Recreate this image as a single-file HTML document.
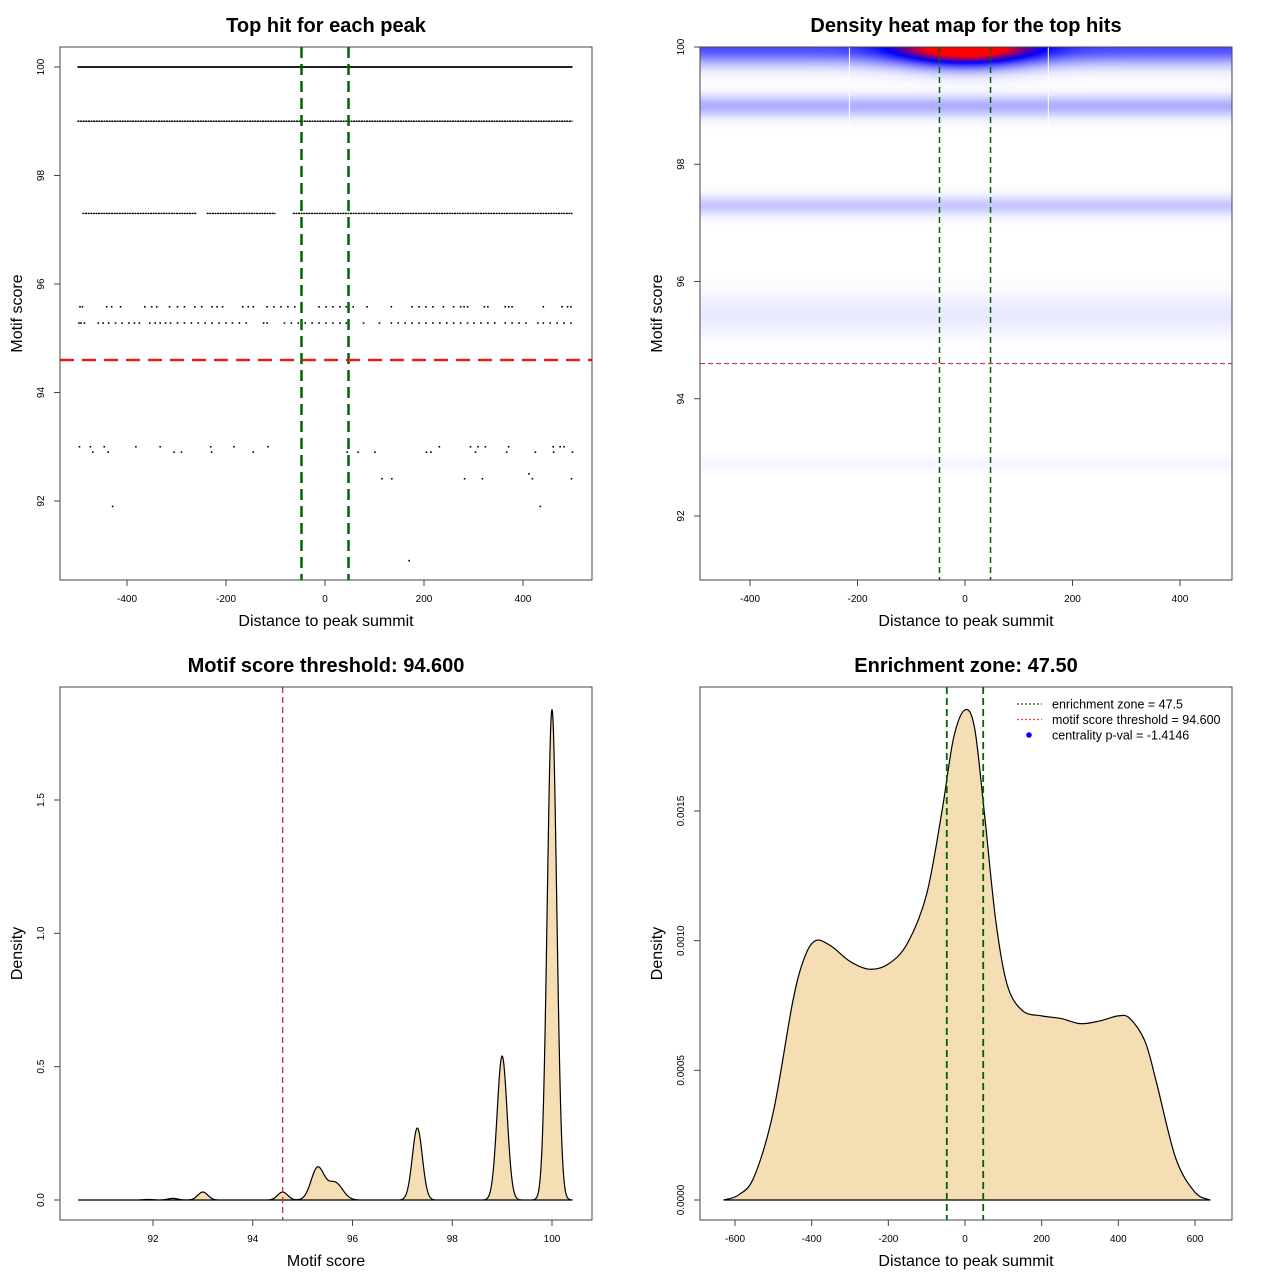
<!DOCTYPE html>
<html><head><meta charset="utf-8">
<style>
html,body{margin:0;padding:0;background:#fff;}
#wrap{position:relative;width:1280px;height:1280px;}
svg{position:absolute;left:0;top:0;}
canvas{position:absolute;}
text{font-family:"Liberation Sans",sans-serif;fill:#000;}
</style></head>
<body>
<div id="wrap">
<canvas id="heat" width="532" height="533" style="left:700px;top:47px"></canvas>
<svg id="svg" width="1280" height="1280" xmlns="http://www.w3.org/2000/svg"></svg>
</div>
<script>
// ---------- data ----------
const threshold = 94.6;
const zone = 47.5;
const denseRowScores = [100, 99, 97.3, 97.3, 97.3];
const denseRowStarts = [-500, -500, -490, -239, -65];
const denseRowEnds = [500, 500, -260, -100, 500];
const row956X = [-495,-490,-441,-431,-413,-364,-350,-340,-314,-298,-284,-263,-249,-228,-218,-207,-166,-155,-145,-117,-103,-89,-75,-61,-47,-12,2,16,30,43,57,85,134,176,190,204,218,239,260,274,281,288,322,329,364,371,378,441,479,490,497];
const row953X = [-497,-493,-486,-458,-448,-437,-423,-410,-396,-385,-375,-354,-343,-333,-322,-312,-298,-284,-270,-256,-242,-228,-214,-200,-187,-173,-159,-124,-117,-82,-68,-54,-40,-26,-12,2,16,30,43,78,110,134,148,162,176,190,204,218,232,246,260,274,288,301,315,329,343,364,378,392,406,430,441,455,469,483,497];
const row930X = [-496,-474,-446,-382,-333,-231,-184,-115,231,294,309,324,371,461,475,483];
const row929X = [-469,-438,-305,-290,-229,-145,45,67,101,205,214,304,367,425,462,500];
const row924X = [115,135,282,318,419,498];
const lowX = [412,-429,435,170];
const lowScore = [92.5,91.9,91.9,90.9];
// heatmap bands
const bandScores = [100, 99.0, 97.3, 95.45, 92.9];
const bandStrength = [0.42, 0.19, 0.13, 0.05, 0.02];
const bandSd = [0.2, 0.13, 0.12, 0.25, 0.1];
const hotCenter = 0, hotStrength = 0.85;
// score density peaks
const peakCenters = [91.9, 92.4, 93.0, 94.6, 95.3, 95.65, 97.3, 99.0, 100.0];
const peakHeights = [0.002, 0.006, 0.03, 0.03, 0.12, 0.065, 0.27, 0.54, 1.84];
const peakSd = [0.1, 0.1, 0.1, 0.1, 0.13, 0.15, 0.1, 0.1, 0.095];
// distance density curve
const distX = [-630,-590,-550,-500,-450,-420,-390,-350,-300,-250,-200,-150,-100,-60,-30,0,25,50,80,110,150,200,250,300,350,400,430,470,500,550,600,640];
const distY = [0,0.00002,0.00009,0.00034,0.00076,0.00093,0.001,0.00098,0.00092,0.00089,0.00091,0.00099,0.00118,0.0015,0.00178,0.00189,0.00182,0.0015,0.00108,0.00083,0.00073,0.00071,0.0007,0.00068,0.00069,0.00071,0.0007,0.00061,0.00045,0.00016,0.00003,0];
// ticks
const tlXTicks = [-400,-200,0,200,400];
const tlYTicks = [92,94,96,98,100];
const blXTicks = [92,94,96,98,100];
const blYTicks = [0,0.5,1.0,1.5];
const blYLabels = ["0.0","0.5","1.0","1.5"];
const brXTicks = [-600,-400,-200,0,200,400,600];
const brYTicks = [0,0.0005,0.001,0.0015];
const brYLabels = ["0.0000","0.0005","0.0010","0.0015"];

// ---------- helpers ----------
const NS = "http://www.w3.org/2000/svg";
const svg = document.getElementById('svg');
function el(tag, attrs, parent){ const e=document.createElementNS(NS,tag); for(const k in attrs) e.setAttribute(k,attrs[k]); (parent||svg).appendChild(e); return e; }
function lin(d0,d1,p0,p1){ return v=>p0+(v-d0)*(p1-p0)/(d1-d0); }

function axes(box, sx, sy, xt, xl, yt, yl, title, xlab, ylab, prefix){
  const f=el('rect',{x:box.x,y:box.y,width:box.w,height:box.h,fill:'none',stroke:'#444','stroke-width':1});
  
  
  const by=box.y+box.h;
  el('line',{x1:sx(xt[0]),x2:sx(xt[xt.length-1]),y1:by,y2:by,stroke:'#444'});
  xt.forEach((t,i)=>{
    el('line',{x1:sx(t),x2:sx(t),y1:by,y2:by+6,stroke:'#444'});
    const tx=el('text',{x:sx(t),y:by+22,'font-size':10,'text-anchor':'middle'}); tx.textContent=xl[i];
    
    
  });
  const lx=box.x;
  el('line',{x1:lx,x2:lx,y1:sy(yt[0]),y2:sy(yt[yt.length-1]),stroke:'#444'});
  yt.forEach((t,i)=>{
    el('line',{x1:lx-6,x2:lx,y1:sy(t),y2:sy(t),stroke:'#444'});
    const tx=el('text',{x:lx-16,y:sy(t),'font-size':10,'text-anchor':'middle',transform:`rotate(-90 ${lx-16} ${sy(t)})`}); tx.textContent=yl[i];
    
    
  });
  const tt=el('text',{x:box.x+box.w/2,y:box.y-15,'font-size':20,'font-weight':'bold','text-anchor':'middle'}); tt.textContent=title;
  
  
  const xa=el('text',{x:box.x+box.w/2,y:by+46,'font-size':16,'text-anchor':'middle'}); xa.textContent=xlab;
  
  
  const cy=box.y+box.h/2, ax=box.x-38;
  const ya=el('text',{x:ax,y:cy,'font-size':16,'text-anchor':'middle',transform:`rotate(-90 ${ax} ${cy})`}); ya.textContent=ylab;
  
  
}

// ---------- top-left scatter ----------
(function(){
  const box={x:60,y:47,w:532,h:533};
  const sx=lin(0,400,325,523), sy=lin(100,92,67,501);
  const g=el('g',{});  
  denseRowScores.forEach((s,i)=>{
    const l=el('line',{x1:sx(denseRowStarts[i]),x2:sx(denseRowEnds[i]),y1:sy(s),y2:sy(s),stroke:'#000','stroke-width':s===100?1.8:1.4,'stroke-dasharray':s===100?'none':'2 0.6'},g);
    
    
  });
  function pts(xs,s){ xs.forEach(x=>{ const r=el('rect',{x:sx(x)-0.8,y:sy(s)-0.8,width:1.6,height:1.6,fill:'#000'},g);
      }); }
  pts(row956X,95.58); pts(row953X,95.28); pts(row930X,93.0); pts(row929X,92.9); pts(row924X,92.41);
  lowX.forEach((x,i)=>pts([x],lowScore[i]));
  const v1=el('line',{x1:sx(-zone),x2:sx(-zone),y1:47,y2:580,stroke:'#006400','stroke-width':2.5,'stroke-dasharray':'11 6'});
   
  const v2=el('line',{x1:sx(zone),x2:sx(zone),y1:47,y2:580,stroke:'#006400','stroke-width':2.5,'stroke-dasharray':'11 6'});
   
  const h=el('line',{x1:60,x2:592,y1:sy(threshold),y2:sy(threshold),stroke:'#e0201b','stroke-width':2.5,'stroke-dasharray':'14 8'});
   
  axes(box,sx,sy,tlXTicks,tlXTicks.map(String),tlYTicks,tlYTicks.map(String),'Top hit for each peak','Distance to peak summit','Motif score','scatter');
})();

// ---------- top-right heatmap ----------
(function(){
  const box={x:700,y:47,w:532,h:533};
  const sx=lin(0,400,965,1180), sy=lin(100,92,47,516);
  const c=document.getElementById('heat').getContext('2d');
  const img=c.createImageData(532,533);
  for(let py=0;py<533;py++){
    const s=100-(py)/58.625;
    for(let px=0;px<532;px++){
      const x=(px+700-965)/0.5375;
      let d=0;
      for(let i=0;i<bandScores.length;i++){ const z=(s-bandScores[i])/bandSd[i]; d+=bandStrength[i]*Math.exp(-z*z/2); }
      const hx=(x-hotCenter)/85, hs=(s-100)/0.22;
      d+=hotStrength*Math.exp(-(hx*hx+hs*hs)/2);
      let r,gg,b;
      if(d<0.6){ const t=d/0.6; r=255*(1-t); gg=255*(1-t); b=255; }
      else { const t=Math.min(1,(d-0.6)/0.4); r=255*t; gg=0; b=255*(1-t); }
      const k=(py*532+px)*4; img.data[k]=r; img.data[k+1]=gg; img.data[k+2]=b; img.data[k+3]=255;
    }
  }
  c.putImageData(img,0,0);
  [-215,155].forEach(x=>{ const l=el('line',{x1:sx(x),x2:sx(x),y1:47,y2:135,stroke:'#fff','stroke-width':1});   });
  const v1=el('line',{x1:sx(-zone),x2:sx(-zone),y1:47,y2:580,stroke:'#006400','stroke-width':1.5,'stroke-dasharray':'6 4'});
   
  const v2=el('line',{x1:sx(zone),x2:sx(zone),y1:47,y2:580,stroke:'#006400','stroke-width':1.5,'stroke-dasharray':'6 4'});
   
  const h=el('line',{x1:700,x2:1232,y1:sy(threshold),y2:sy(threshold),stroke:'#d03a3a','stroke-width':1.2,'stroke-dasharray':'5 3'});
   
  axes(box,sx,sy,tlXTicks,tlXTicks.map(String),tlYTicks,tlYTicks.map(String),'Density heat map for the top hits','Distance to peak summit','Motif score','heatmap');
})();

// ---------- bottom-left score density ----------
(function(){
  const box={x:60,y:687,w:532,h:533};
  const sx=lin(92,100,153,552), sy=lin(0,1.5,1200,800);
  let d='M'+sx(90.5)+','+sy(0);
  for(let s=90.5;s<=100.4001;s+=0.01){
    let v=0; for(let i=0;i<peakCenters.length;i++){ const z=(s-peakCenters[i])/peakSd[i]; v+=peakHeights[i]*Math.exp(-z*z/2); }
    d+=' L'+sx(s).toFixed(2)+','+sy(v).toFixed(2);
  }
  d+=' L'+sx(100.4)+','+sy(0)+' Z';
  const p=el('path',{d:d,fill:'#f5deb3',stroke:'#000','stroke-width':1.2});
   
  el('line',{x1:sx(90.5),x2:sx(100.4),y1:sy(0),y2:sy(0),stroke:'#000','stroke-width':1});
  const h=el('line',{x1:sx(threshold),x2:sx(threshold),y1:687,y2:1220,stroke:'#c0303b','stroke-width':1.3,'stroke-dasharray':'6 4'});
   
  axes(box,sx,sy,blXTicks,blXTicks.map(String),blYTicks,blYLabels,'Motif score threshold: 94.600','Motif score','Density','score-density');
})();

// ---------- bottom-right distance density ----------
(function(){
  const box={x:700,y:687,w:532,h:533};
  const sx=lin(0,600,965,1195), sy=lin(0,0.0015,1200,811);
  const P=distX.map((x,i)=>[sx(x),sy(distY[i])]);
  let d='M'+P[0][0]+','+P[0][1];
  for(let i=0;i<P.length-1;i++){
    const p0=P[Math.max(0,i-1)],p1=P[i],p2=P[i+1],p3=P[Math.min(P.length-1,i+2)];
    d+=` C${(p1[0]+(p2[0]-p0[0])/6).toFixed(2)},${(p1[1]+(p2[1]-p0[1])/6).toFixed(2)} ${(p2[0]-(p3[0]-p1[0])/6).toFixed(2)},${(p2[1]-(p3[1]-p1[1])/6).toFixed(2)} ${p2[0].toFixed(2)},${p2[1].toFixed(2)}`;
  }
  d+=' Z';
  const p=el('path',{d:d,fill:'#f5deb3',stroke:'#000','stroke-width':1.2});
   
  el('line',{x1:sx(distX[0]),x2:sx(distX[distX.length-1]),y1:sy(0),y2:sy(0),stroke:'#000','stroke-width':1});
  const v1=el('line',{x1:sx(-zone),x2:sx(-zone),y1:687,y2:1220,stroke:'#006400','stroke-width':1.8,'stroke-dasharray':'7 4'});
   
  const v2=el('line',{x1:sx(zone),x2:sx(zone),y1:687,y2:1220,stroke:'#006400','stroke-width':1.8,'stroke-dasharray':'7 4'});
   
  const lg=el('g',{});  
  const items=[['enrichment zone = 47.5','#2a4a2a','line'],['motif score threshold = 94.600','#ff4040','line'],['centrality p-val = -1.4146','#0000ff','dot']];
  items.forEach((it,i)=>{
    const y=704+i*15.5;
    if(it[2]==='line') el('line',{x1:1017,x2:1042,y1:y,y2:y,stroke:it[1],'stroke-width':1.2,'stroke-dasharray':'2 2'},lg);
    else el('circle',{cx:1029,cy:y,r:2.8,fill:it[1]},lg);
    const t=el('text',{x:1052,y:y+4.5,'font-size':12.5},lg); t.textContent=it[0];
     
  });
  axes(box,sx,sy,brXTicks,brXTicks.map(String),brYTicks,brYLabels,'Enrichment zone: 47.50','Distance to peak summit','Density','distance-density');
})();
</script>
</body></html>
